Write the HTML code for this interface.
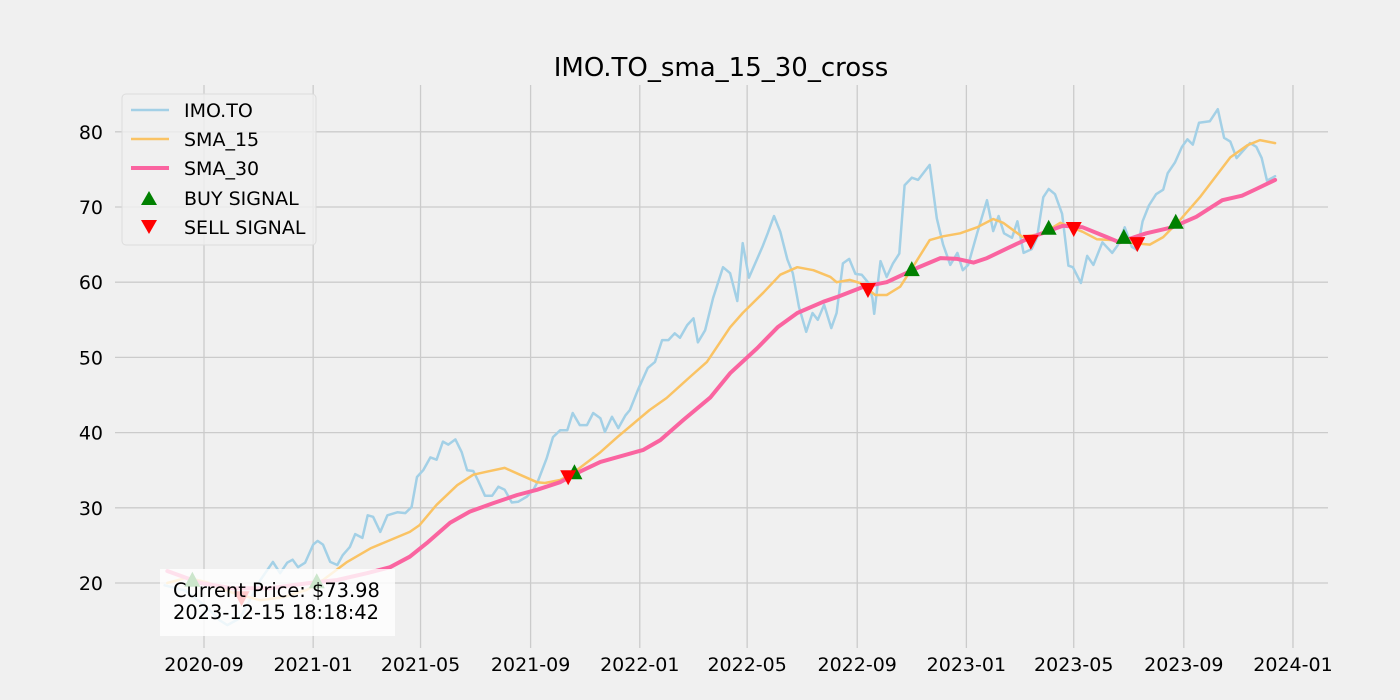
<!DOCTYPE html>
<html><head><meta charset="utf-8"><style>
html,body{margin:0;padding:0;background:#f0f0f0;}
svg{display:block;font-family:"DejaVu Sans","Liberation Sans",sans-serif;}
</style></head><body>
<svg id="chart" width="1400" height="700" viewBox="0 0 1400 700">
<rect width="1400" height="700" fill="#f0f0f0"/>
<text x="721" y="76" font-size="26" text-anchor="middle" fill="#000">IMO.TO_sma_15_30_cross</text>
<g id="grid"></g><g id="series"></g><g id="marks"></g>
<g>
<rect x="122" y="94" width="194" height="151" rx="4" fill="#f0f0f0" fill-opacity="0.8" stroke="#dcdcdc"/>
<g><line x1="131" y1="110" x2="169" y2="110" stroke="rgb(163,208,230)" stroke-width="2.5"/><text x="184" y="117" font-size="19">IMO.TO</text></g>
<g><line x1="131" y1="139" x2="169" y2="139" stroke="rgb(250,195,100)" stroke-width="2.5"/><text x="184" y="146" font-size="19">SMA_15</text></g>
<g><line x1="131" y1="168" x2="169" y2="168" stroke="rgb(250,100,160)" stroke-width="4"/><text x="184" y="175" font-size="19">SMA_30</text></g>
<g><path d="M149,191 L157,205 L141,205 Z" fill="green"/><text x="184" y="205" font-size="19">BUY SIGNAL</text></g>
<g><path d="M141,220 L157,220 L149,234 Z" fill="red"/><text x="184" y="234" font-size="19">SELL SIGNAL</text></g>
</g>
<g>
<rect x="160" y="569" width="235" height="67" fill="#fff" fill-opacity="0.8"/>
<text x="173" y="597" font-size="19.4">Current Price: $73.98</text>
<text x="173" y="619" font-size="19.4">2023-12-15 18:18:42</text>
</g>
</svg>
<script>
const priceDays=[-44,-21,1,18,26,40,51,63,77,85,93,99,105,113,122,127,133,141,149,155,163,169,177,183,189,197,205,216,225,232,238,245,253,260,267,273,281,288,294,301,306,314,322,329,336,344,351,361,368,373,383,390,398,406,412,420,428,435,443,448,456,463,471,476,485,496,504,512,519,526,532,540,547,552,560,569,580,588,596,602,609,624,630,637,644,652,658,665,673,680,686,693,701,707,714,721,728,735,742,747,749,756,763,770,777,783,791,798,811,819,826,834,842,848,854,864,875,882,888,894,903,909,916,925,931,938,944,951,959,966,971,980,987,994,1004,1015,1021,1029,1037,1043,1049,1056,1064,1072,1077,1085,1093,1099,1105,1112,1124,1133,1140,1147,1154,1169,1176,1182,1188,1197];
const priceVals=[19.7,19,17,15,14.4,15.3,17.7,20.4,22.8,21.3,22.7,23.1,22.1,22.7,25.1,25.6,25.1,22.8,22.4,23.7,24.8,26.5,26,29,28.8,26.8,29,29.4,29.3,30.1,34.1,35,36.7,36.4,38.8,38.4,39.1,37.4,35,34.9,33.7,31.6,31.6,32.8,32.4,30.7,30.8,31.5,32.4,33.5,36.6,39.4,40.3,40.3,42.6,41,41,42.6,41.9,40.1,42.1,40.6,42.3,43,45.7,48.6,49.4,52.3,52.3,53.2,52.6,54.3,55.2,52,53.6,57.9,62,61.2,57.5,65.2,60.6,64.7,66.5,68.8,66.7,63,61.2,56.7,53.4,55.9,55,57,53.9,55.9,62.5,63.1,61.1,61,60,57.9,55.8,62.8,60.7,62.5,63.8,72.9,73.9,73.6,75.6,68.5,65,62.3,63.9,61.6,62.3,66.5,70.9,66.8,68.8,66.5,65.9,68.1,63.9,64.4,66,71.3,72.4,71.7,69.1,62.2,62,59.9,63.5,62.3,65.3,63.9,64.9,67.3,64.7,64.3,68.1,70.2,71.7,72.3,74.5,75.9,78,79,78.3,81.2,81.4,83,79.2,78.7,76.5,78.5,78,76.5,73.5,74.1];
const sma15Days=[-41,-19,3,32,63,88,115,133,160,186,208,230,241,260,283,301,316,336,353,372,381,398,412,443,462,498,517,543,562,588,602,625,644,663,681,700,707,722,733,750,763,778,792,811,826,845,864,882,893,915,938,957,982,998,1016,1038,1057,1072,1091,1113,1147,1166,1180,1197];
const sma15Vals=[20,20.7,20.1,18.7,17.7,18.1,19.1,20.4,22.8,24.6,25.7,26.8,27.7,30.4,33,34.4,34.8,35.3,34.4,33.4,33.3,33.7,34.6,37.4,39.4,43,44.6,47.4,49.4,54,55.9,58.6,61,62,61.6,60.7,60,60.3,59.9,58.3,58.3,59.4,62,65.6,66.1,66.5,67.3,68.4,67.9,66,66.5,67.9,66.7,65.7,65.6,65.2,65,66,68.3,71.3,76.6,78.2,78.9,78.5];
const sma30Days=[-41,-4,32,73,118,149,182,208,230,249,275,297,323,350,372,398,420,443,491,510,536,566,588,618,641,663,692,707,737,763,781,797,823,842,860,875,901,923,960,982,1009,1023,1053,1082,1109,1138,1160,1176,1197];
const sma30Vals=[21.6,20,19.3,19.3,20,20.4,21.3,22.1,23.5,25.3,28,29.5,30.6,31.7,32.4,33.4,34.8,36.1,37.7,39,41.7,44.7,47.9,51.2,54,55.9,57.4,58,59.4,60,61,61.9,63.2,63.1,62.6,63.2,64.7,65.9,67.5,67.3,66,65.3,66.5,67.3,68.7,70.9,71.5,72.4,73.6];
const buyDays=[-13,126,414,791,944,1028,1086];
const buyVals=[20.3,20.1,34.6,61.6,67.1,65.9,67.9];
const sellDays=[42,407,742,924,972,1043];
const sellVals=[18.1,34.2,59.1,65.5,67.2,65.2];
const xTickLabels=["2020-09","2021-01","2021-05","2021-09","2022-01","2022-05","2022-09","2023-01","2023-05","2023-09","2024-01"];
const yTickVals=[20,30,40,50,60,70,80];

const NS="http://www.w3.org/2000/svg";
const base=Date.UTC(2020,8,1);
function xS(d){return 204+d*0.8948;}
function yS(v){return 583-(v-20)*7.52;}
function mk(tag,attrs,parent){const e=document.createElementNS(NS,tag);for(const k in attrs)e.setAttribute(k,attrs[k]);parent.appendChild(e);return e;}
const grid=document.getElementById('grid'),series=document.getElementById('series'),marks=document.getElementById('marks');
yTickVals.forEach(v=>{
  const l=mk('line',{x1:115,x2:1328,y1:yS(v),y2:yS(v),stroke:'#cbcbcb','stroke-width':1.3},grid);
  
  
  const t=mk('text',{x:103,y:yS(v)+7,'font-size':19,'text-anchor':'end'},grid);
  t.textContent=v;
  
  
});
xTickLabels.forEach(s=>{
  const p=s.split('-');const d=(Date.UTC(+p[0],+p[1]-1,1)-base)/864e5;const x=xS(d);
  const l=mk('line',{x1:x,x2:x,y1:85,y2:648,stroke:'#cbcbcb','stroke-width':1.3},grid);
  
  
  const t=mk('text',{x:x,y:671,'font-size':19,'text-anchor':'middle'},grid);
  t.textContent=s;
  
  
});
function line(ds,vs,color,w,name){
  const n=Math.min(ds.length,vs.length);let pts=[];
  for(let i=0;i<n;i++)pts.push(xS(ds[i]).toFixed(1)+','+yS(vs[i]).toFixed(1));
  const p=mk('polyline',{points:pts.join(' '),fill:'none',stroke:color,'stroke-width':w,'stroke-linejoin':'round','stroke-linecap':'round'},series);
  
  
}
line(priceDays,priceVals,'rgb(163,208,230)',2.5,'imo-price-line');
line(sma15Days,sma15Vals,'rgb(250,195,100)',2.5,'sma15-line');
line(sma30Days,sma30Vals,'rgb(250,100,160)',4,'sma30-line');
buyDays.forEach((d,i)=>{
  const x=xS(d),y=yS(buyVals[i]);
  const p=mk('path',{d:`M${x},${y-9} L${x+8},${y+6} L${x-8},${y+6} Z`,fill:'green'},marks);
  
  
});
sellDays.forEach((d,i)=>{
  const x=xS(d),y=yS(sellVals[i]);
  const p=mk('path',{d:`M${x-8},${y-6} L${x+8},${y-6} L${x},${y+9} Z`,fill:'red'},marks);
  
  
});
</script>
</body></html>
